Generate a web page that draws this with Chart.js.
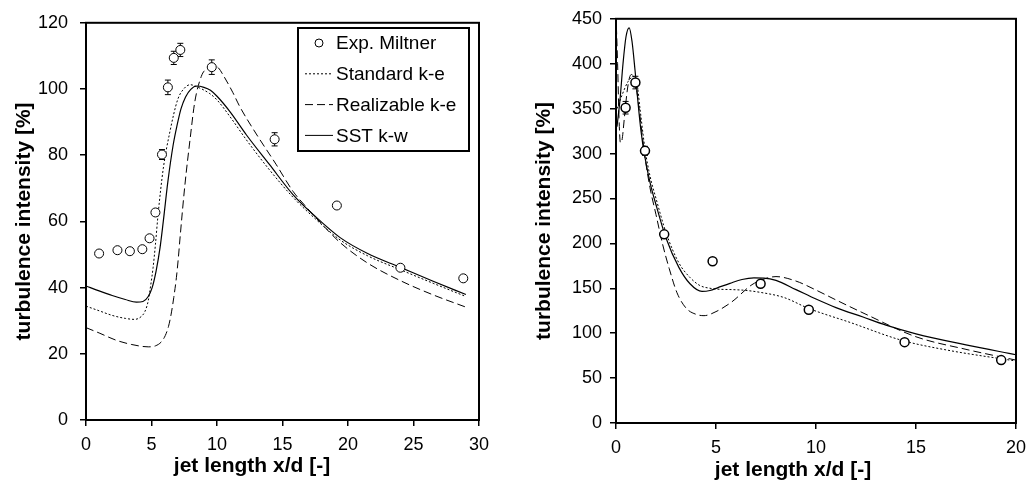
<!DOCTYPE html>
<html>
<head>
<meta charset="utf-8">
<title>turbulence intensity vs jet length</title>
<script src="https://cdn.jsdelivr.net/npm/chart.js@4.4.1/dist/chart.umd.min.js"></script>
<style>
    html, body { margin: 0; padding: 0; background: #fff; overflow: hidden; }
    body { width: 1034px; height: 484px; position: relative; }
    .panel { position: absolute; top: 0; width: 517px; height: 484px; }
    #panel-left { left: 0; }
    #panel-right { left: 517px; }
</style>
</head>
<body>
<div class="panel" id="panel-left"><canvas id="chart-left"></canvas></div>
<div class="panel" id="panel-right"><canvas id="chart-right"></canvas></div>

<script>
// ---- left panel (x/d 0..30) ----
const leftExpX   = [1.0, 2.4, 3.35, 4.3, 4.85, 5.3, 5.8, 6.25, 6.7, 7.2, 9.6, 14.4, 19.15, 24.0, 28.8];
const leftExpY   = [50.3, 51.3, 51.0, 51.6, 54.9, 62.7, 80.2, 100.5, 109.4, 111.8, 106.6, 84.8, 64.8, 46.0, 42.8];
const leftExpErr = [0, 0, 0, 0, 0, 0, 1.5, 2.2, 2, 2, 2.2, 2, 0, 0, 0];

const leftStdX = [0, 1, 2, 3, 3.7, 4.2, 4.5, 4.75, 4.95, 5.12, 5.3, 5.5, 5.9, 6.4, 7.0, 7.5, 7.95, 8.5, 9.45, 10.0, 11.0, 12.25, 14.0, 15.8, 17.5, 19.4, 21.5, 24.0, 26.5, 29.0];
const leftStdY = [34.4, 33.0, 31.6, 30.7, 30.4, 31.2, 32.8, 36, 41, 46, 53, 62, 76, 87, 96.8, 100.2, 101.3, 100.6, 98.6, 96.7, 91.6, 84.6, 75.6, 67.3, 60.8, 54.4, 49.6, 45.4, 41.3, 37.3];

const leftRealX = [0, 1, 2.3, 3.5, 4.75, 5.3, 5.75, 6.05, 6.3, 6.5, 6.7, 6.9, 7.05, 7.2, 7.55, 7.95, 8.3, 8.8, 9.2, 9.65, 10.1, 10.5, 11.2, 11.75, 13.0, 14.5, 15.8, 16.85, 18.0, 19.4, 21.5, 24.0, 26.5, 29.0];
const leftRealY = [27.9, 26.3, 24.1, 22.8, 22.1, 22.4, 23.6, 25.5, 28.3, 32, 37, 43, 49, 56, 71, 85, 96, 103.8, 106.2, 107.2, 106.4, 104, 99, 94.6, 86.4, 77.3, 69.1, 64.2, 59.2, 53.6, 47.4, 42.1, 37.8, 34.1];

const leftSstX = [0, 1, 2, 3, 3.85, 4.35, 4.75, 5.05, 5.35, 5.65, 5.9, 6.25, 6.65, 6.95, 7.25, 7.6, 8.0, 8.45, 9.0, 9.5, 10.0, 11.0, 12.25, 14.0, 15.8, 17.5, 19.4, 21.5, 24.0, 26.5, 29.0];
const leftSstY = [40.5, 39.0, 37.6, 36.4, 35.6, 35.8, 37.3, 40, 45, 52, 60, 72, 83, 89, 94, 97.6, 99.9, 100.9, 100.5, 99.6, 97.8, 93.1, 86.1, 77.2, 68.1, 61.5, 55.1, 50.3, 46.1, 41.9, 37.9];

const leftXTicks = [0, 5, 10, 15, 20, 25, 30];
const leftYTicks = [0, 20, 40, 60, 80, 100, 120];

// ---- right panel (x/d 0..20) ----
const rightExpX   = [0.48, 0.97, 1.45, 2.41, 4.83, 7.23, 9.64, 14.43, 19.26];
const rightExpY   = [351, 379, 303, 210, 180, 155, 126, 90, 70];
const rightExpErr = [7, 7, 5, 3, 0, 0, 0, 0, 0];

const rightStdX = [0.05, 0.3, 0.6, 0.9, 1.05, 1.2, 1.45, 1.7, 2.0, 2.5, 3.15, 3.7, 4.2, 4.7, 5.1, 5.8, 6.4, 7.2, 8.4, 9.64, 11.7, 14.3, 16.6, 20.0];
const rightStdY = [350, 365, 380, 386, 378, 350, 305, 275, 250, 212, 178, 162, 153, 150, 149, 148.5, 147.8, 145.5, 139.7, 127.5, 112, 92, 81, 69];

const rightRealX = [0, 0.08, 0.15, 0.22, 0.3, 0.42, 0.55, 0.67, 0.77, 0.9, 1.05, 1.25, 1.45, 1.7, 2.0, 2.33, 2.66, 3.05, 3.5, 4.0, 4.4, 5.0, 5.8, 6.8, 7.5, 8.0, 9.0, 10.0, 11.0, 12.5, 15.0, 17.5, 20.0];
const rightRealY = [455, 400, 340, 312, 315, 340, 368, 384, 388, 384, 368, 332, 296, 262, 232, 199, 172, 145, 128, 121, 119.5, 124, 135, 154, 161, 163, 158, 148, 137, 121, 96, 82, 70];

const rightSstX = [0.05, 0.2, 0.35, 0.5, 0.66, 0.8, 0.95, 1.1, 1.25, 1.43, 1.7, 2.0, 2.5, 3.15, 3.7, 4.3, 4.7, 5.1, 5.7, 6.3, 6.9, 7.4, 8.0, 9.0, 10.0, 11.0, 12.35, 13.5, 15.0, 17.5, 20.0];
const rightSstY = [330, 360, 400, 430, 440, 425, 393, 357, 325, 298, 268, 243, 206, 173, 155, 146.5, 147.5, 150.7, 155.5, 159.8, 161.5, 161.3, 158.8, 148.5, 138, 128.5, 118, 109, 99.3, 87, 76];

const rightXTicks = [0, 5, 10, 15, 20];
const rightYTicks = [0, 50, 100, 150, 200, 250, 300, 350, 400, 450];

const seriesNames = ['Exp. Miltner', 'Standard k-e', 'Realizable k-e', 'SST k-w'];

// ------------------------------------------------------------
const FONT = 'Liberation Sans, Arial, Helvetica, sans-serif';
Chart.defaults.font.family = FONT;
Chart.defaults.color = '#000';

const zip = (xs, ys) => xs.map((x, i) => ({ x: x, y: ys[i] }));

// black box round the plot area
const frameBox = {
    id: 'frameBox',
    afterDraw(chart) {
        const { ctx, chartArea: a } = chart;
        ctx.save();
        ctx.strokeStyle = '#000';
        ctx.lineWidth = 2;
        ctx.strokeRect(a.left, a.top, a.right - a.left, a.bottom - a.top);
        ctx.restore();
    }
};

// vertical error bars, drawn under the markers
const errorBars = {
    id: 'errorBars',
    beforeDatasetsDraw(chart) {
        const { ctx, scales: { x, y } } = chart;
        chart.data.datasets.forEach(ds => {
            if (!ds.errors) return;
            ctx.save();
            ctx.strokeStyle = '#000';
            ctx.lineWidth = 1;
            ds.data.forEach((p, i) => {
                const e = ds.errors[i];
                if (!e) return;
                const px = x.getPixelForValue(p.x);
                const top = y.getPixelForValue(p.y + e);
                const bot = y.getPixelForValue(p.y - e);
                ctx.beginPath();
                ctx.moveTo(px, top); ctx.lineTo(px, bot);
                ctx.moveTo(px - 3, top); ctx.lineTo(px + 3, top);
                ctx.moveTo(px - 3, bot); ctx.lineTo(px + 3, bot);
                ctx.stroke();
            });
            ctx.restore();
        });
    }
};

// x axis caption (sits a bit left of centre in the original)
const xCaption = {
    id: 'xCaption',
    afterDraw(chart, args, opts) {
        const ctx = chart.ctx;
        ctx.save();
        ctx.font = 'bold 21px ' + FONT;
        ctx.fillStyle = '#000';
        ctx.textAlign = 'center';
        ctx.textBaseline = 'middle';
        ctx.fillText(opts.text, opts.x, opts.y);
        ctx.restore();
    }
};

// boxed legend inside the plot
const boxLegend = {
    id: 'boxLegend',
    afterDraw(chart, args, opts) {
        if (!opts.show) return;
        const ctx = chart.ctx;
        ctx.save();
        ctx.fillStyle = '#fff';
        ctx.fillRect(opts.left, opts.top, opts.width, opts.height);
        ctx.strokeStyle = '#000';
        ctx.lineWidth = 2;
        ctx.strokeRect(opts.left, opts.top, opts.width, opts.height);
        ctx.font = '19px ' + FONT;
        ctx.textBaseline = 'middle';
        chart.data.datasets.forEach((ds, i) => {
            const cy = opts.top + opts.firstRow + i * opts.rowGap;
            const x0 = opts.left + 7, x1 = x0 + 28;
            ctx.strokeStyle = '#000';
            ctx.lineWidth = 1;
            if (ds.showLine === false) {
                ctx.beginPath();
                ctx.arc((x0 + x1) / 2, cy, 4, 0, Math.PI * 2);
                ctx.fillStyle = '#fff';
                ctx.fill();
                ctx.stroke();
            } else {
                ctx.setLineDash(ds.borderDash || []);
                ctx.beginPath();
                ctx.moveTo(x0, cy); ctx.lineTo(x1, cy);
                ctx.stroke();
                ctx.setLineDash([]);
            }
            ctx.fillStyle = '#000';
            ctx.fillText(ds.label, x1 + 3, cy + 1);
        });
        ctx.restore();
    }
};

function buildChart(canvasId, p) {
    const datasets = [
        {
            label: seriesNames[0], data: zip(p.expX, p.expY), errors: p.expErr,
            showLine: false, pointRadius: 4.5, pointHoverRadius: 4.5,
            pointBackgroundColor: '#fff', pointBorderColor: '#000', pointBorderWidth: p.markerWidth
        },
        {
            label: seriesNames[1], data: zip(p.stdX, p.stdY), showLine: true,
            borderColor: '#000', borderWidth: 1, borderDash: [2, 2], pointRadius: 0,
            cubicInterpolationMode: 'monotone'
        },
        {
            label: seriesNames[2], data: zip(p.realX, p.realY), showLine: true,
            borderColor: '#000', borderWidth: 1, borderDash: [8, 4], pointRadius: 0,
            cubicInterpolationMode: 'monotone'
        },
        {
            label: seriesNames[3], data: zip(p.sstX, p.sstY), showLine: true,
            borderColor: '#000', borderWidth: 1.2, pointRadius: 0,
            cubicInterpolationMode: 'monotone'
        }
    ];

    return new Chart(document.getElementById(canvasId), {
        type: 'scatter',
        data: { datasets: datasets },
        options: {
            responsive: true, maintainAspectRatio: false, animation: false,
            layout: { padding: { top: p.padTop, right: p.padRight, left: 0, bottom: 0 } },
            plugins: {
                legend: { display: false },
                tooltip: { enabled: false },
                boxLegend: p.legend,
                xCaption: p.caption
            },
            scales: {
                x: {
                    type: 'linear', min: p.xTicks[0], max: p.xTicks[p.xTicks.length - 1],
                    afterBuildTicks: s => { s.ticks = p.xTicks.map(v => ({ value: v })); },
                    afterFit: s => { s.height = p.xHeight; },
                    ticks: { font: { size: 18 }, color: '#000', padding: 8, maxRotation: 0 },
                    grid: { drawOnChartArea: false, drawTicks: true, tickLength: 6, color: '#000', lineWidth: 1.5 },
                    border: { display: true, color: '#000', width: 2 }
                },
                y: {
                    type: 'linear', min: p.yTicks[0], max: p.yTicks[p.yTicks.length - 1],
                    afterBuildTicks: s => { s.ticks = p.yTicks.map(v => ({ value: v })); },
                    afterFit: s => { s.width = p.yWidth; },
                    ticks: { font: { size: 18 }, color: '#000', padding: p.yTickPad },
                    grid: { drawOnChartArea: false, drawTicks: true, tickLength: 6, color: '#000', lineWidth: 1.5 },
                    border: { display: true, color: '#000', width: 2 },
                    title: {
                        display: true, text: 'turbulence intensity [%]', color: '#000',
                        font: { size: 21, weight: 'bold', lineHeight: 1.15 },
                        padding: { top: p.yTitlePad, bottom: 0 }
                    }
                }
            }
        },
        plugins: [errorBars, frameBox, boxLegend, xCaption]
    });
}

buildChart('chart-left', {
    expX: leftExpX, expY: leftExpY, expErr: leftExpErr, markerWidth: 1,
    stdX: leftStdX, stdY: leftStdY, realX: leftRealX, realY: leftRealY, sstX: leftSstX, sstY: leftSstY,
    xTicks: leftXTicks, yTicks: leftYTicks,
    padTop: 20, padRight: 38, xHeight: 64, yWidth: 86, yTickPad: 12, yTitlePad: 12,
    legend: { show: true, left: 298, top: 28, width: 171, height: 123, firstRow: 15, rowGap: 30.8 },
    caption: { text: 'jet length x/d [-]', x: 252, y: 466 }
});

buildChart('chart-right', {
    expX: rightExpX, expY: rightExpY, expErr: rightExpErr, markerWidth: 1.5,
    stdX: rightStdX, stdY: rightStdY, realX: rightRealX, realY: rightRealY, sstX: rightSstX, sstY: rightSstY,
    xTicks: rightXTicks, yTicks: rightYTicks,
    padTop: 17, padRight: 12, xHeight: 61, yWidth: 99, yTickPad: 8, yTitlePad: 15,
    legend: { show: false },
    caption: { text: 'jet length x/d [-]', x: 276, y: 470 }
});
</script>
</body>
</html>
